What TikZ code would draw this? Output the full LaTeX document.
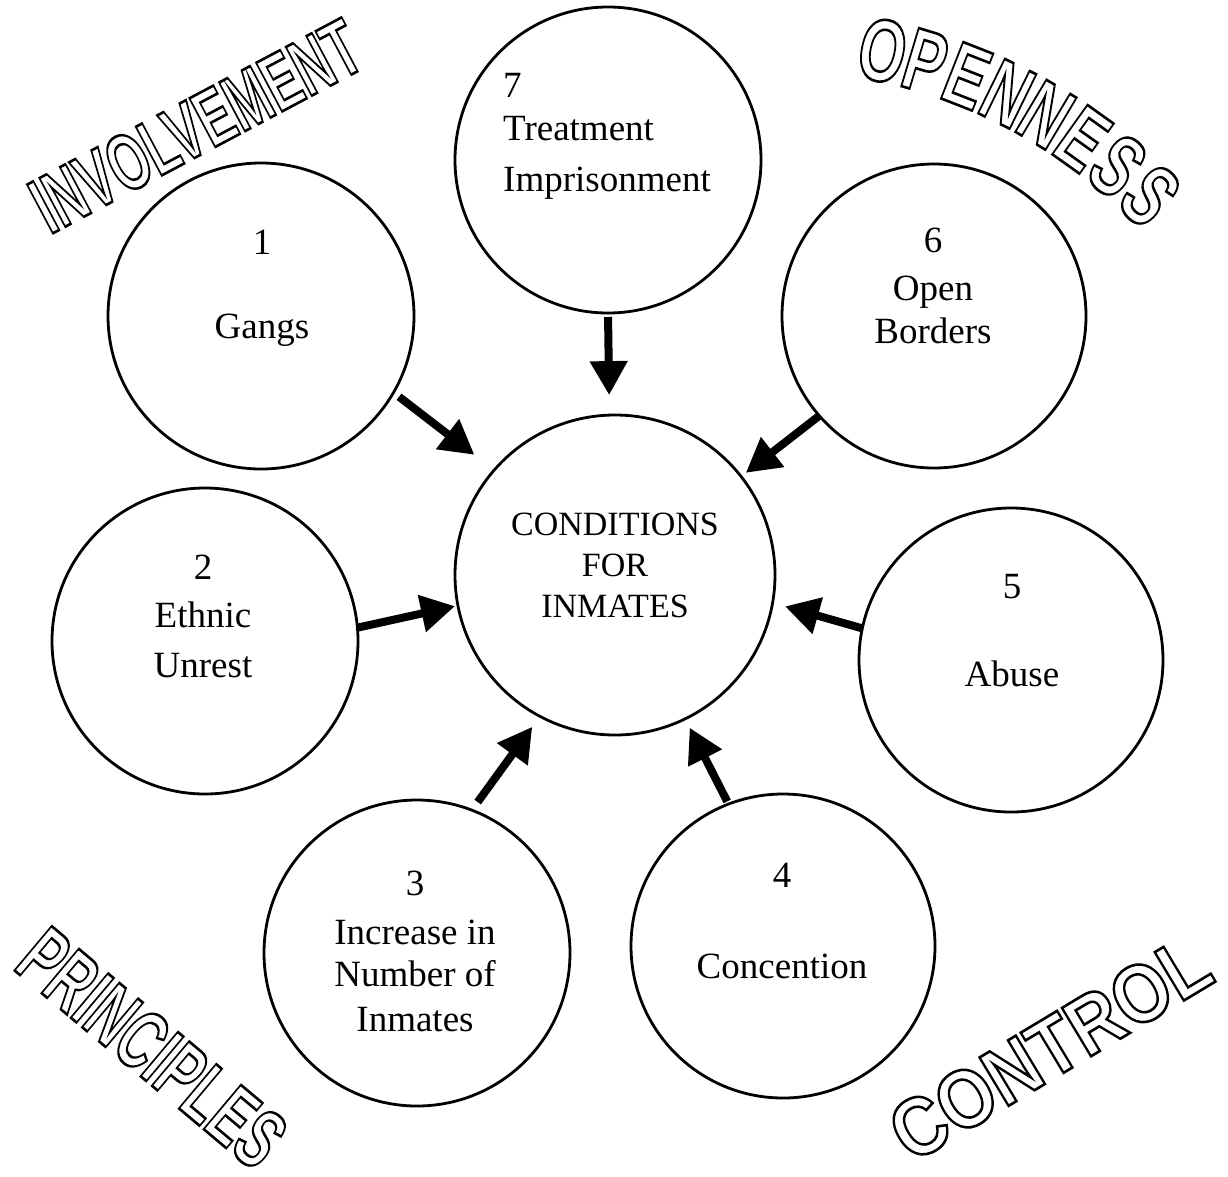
\documentclass[tikz,border=0pt]{standalone}
\usepackage{fontspec}
\setmainfont{Liberation Serif}
\newfontfamily\wafont{Liberation Sans}
\usepackage{graphicx}
\usetikzlibrary{arrows.meta,calc}
\newcommand\wart[1]{\special{pdf:literal direct 1 Tr 2.6 w 0 0 0 RG}#1\special{pdf:literal direct 0 Tr}}
\tikzset{
  circ/.style={circle, draw=black, line width=2.8pt, minimum size=#1, inner sep=0pt, outer sep=0pt},
  arr/.style={line width=8pt, -{Triangle[length=34pt,width=36pt]}},
  lbl/.style={anchor=base, inner sep=0pt, font=\fontsize{37}{44}\selectfont},
  clbl/.style={anchor=base, inner sep=0pt, font=\fontsize{34}{40}\selectfont},
  wa/.style={inner sep=0pt, font=\wafont\bfseries\fontsize{#1}{#1}\selectfont},
}
\begin{document}
\begin{tikzpicture}[x=1pt,y=-1pt]
\useasboundingbox (0,0) rectangle (1228,1176);
\fill[white] (0,0) rectangle (1228,1176);

% circles
\node[circ=306pt] (c7) at (608,160) {};
\node[circ=306pt] (c1) at (261,316) {};
\node[circ=304pt] (c6) at (934,316) {};
\node[circ=320pt] (c0) at (615,575) {};
\node[circ=306pt] (c2) at (205,641) {};
\node[circ=304pt] (c5) at (1011,660) {};
\node[circ=306pt] (c3) at (417,953) {};
\node[circ=304pt] (c4) at (783,946) {};

% texts
\node[lbl, anchor=base west] (t7a) at (503,97) {7};
\node[lbl, anchor=base west] (t7b) at (503,140) {Treatment};
\node[lbl, anchor=base west] (t7c) at (503,191) {Imprisonment};

\node[lbl] (t1a) at (262,254) {1};
\node[lbl] (t1b) at (262,338) {Gangs};

\node[lbl] (t6a) at (933,252) {6};
\node[lbl] (t6b) at (933,300) {Open};
\node[lbl] (t6c) at (933,343) {Borders};

\node[clbl] (t0a) at (615,535) {CONDITIONS};
\node[clbl] (t0b) at (615,576) {FOR};
\node[clbl] (t0c) at (615,617) {INMATES};

\node[lbl] (t2a) at (203,579) {2};
\node[lbl] (t2b) at (203,627) {Ethnic};
\node[lbl] (t2c) at (203,677) {Unrest};

\node[lbl] (t5a) at (1012,598) {5};
\node[lbl] (t5b) at (1012,686) {Abuse};

\node[lbl] (t3a) at (415,895) {3};
\node[lbl] (t3b) at (415,944) {Increase in};
\node[lbl] (t3c) at (415,986) {Number of};
\node[lbl] (t3d) at (415,1031) {Inmates};

\node[lbl] (t4a) at (782,887) {4};
\node[lbl] (t4b) at (782,978) {Concention};

% arrows
\draw[arr, shorten <=7pt, shorten >=25pt] (c1.-30) -- (c0.139);
\draw[arr, shorten <=4pt, shorten >=20pt] (c7.-90) -- (c0.92);
\draw[arr, shorten <=0pt, shorten >=6pt] (c6.-139) -- (c0.38);
\draw[arr, shorten <=1pt, shorten >=3pt] (c2.5) -- (c0.-169);
\draw[arr, shorten <=1pt, shorten >=13pt] (c5.168) -- (c0.-10);
\draw[arr, shorten <=10pt, shorten >=13pt] (c3.69) -- (c0.-118);
\draw[arr, shorten <=3pt, shorten >=10pt] (c4.111) -- (c0.-64);

% word art
\node[wa=80, rotate=28] (wInv) at (196,126) {\scalebox{0.63}[1]{\wart{INVOLVEMENT}}};
\node[wa=84, rotate=-40] (wPri) at (152,1048) {\scalebox{0.63}[1]{\wart{PRINCIPLES}}};
\node[wa=82, rotate=31] (wCon) at (1050,1048) {\scalebox{0.88}[1]{\wart{CONTROL}}};
\foreach \ch [count=\i] in {O,P,E,N,N,E,S,S}{
  \pgfmathsetmacro\ang{78-4.7*(\i-1)}
  \pgfmathsetmacro\rot{\ang-90}
  \node[wa=88, rotate=\rot] (wOp\i) at ($(771,576)+(-\ang:537)$) {\scalebox{0.68}[1]{\wart{\ch}}};
}
\end{tikzpicture}
\end{document}
